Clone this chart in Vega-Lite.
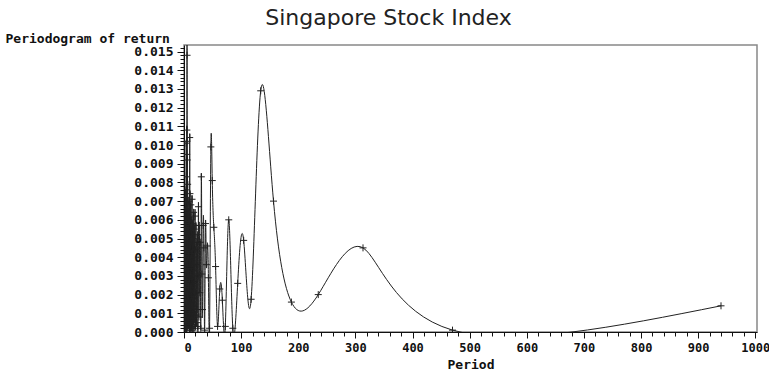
{
  "$schema": "https://vega.github.io/schema/vega-lite/v6.json",
  "width": 573,
  "height": 287,
  "autosize": {"type": "none"},
  "padding": {"left": 184, "top": 45, "right": 12, "bottom": 39},
  "background": "white",
  "title": {"text": "Singapore Stock Index", "font": "DejaVu Sans", "fontSize": 22, "fontWeight": "normal", "color": "#222", "anchor": "middle", "dx": -82, "offset": 2},
  "config": {"view": {"stroke": "#888", "strokeWidth": 1.5}},
  "data": {"values": [
    {"p": 940, "v": 0.0014}, {"p": 470, "v": 0.0001}, {"p": 313.33, "v": 0.0045}, {"p": 235, "v": 0.0020},
    {"p": 188, "v": 0.0016}, {"p": 156.67, "v": 0.0070}, {"p": 134.29, "v": 0.0129}, {"p": 117.5, "v": 0.00175},
    {"p": 104.44, "v": 0.0049}, {"p": 94, "v": 0.0026}, {"p": 85.45, "v": 0.0002}, {"p": 78.33, "v": 0.0060},
    {"p": 72.31, "v": 0.0003}, {"p": 67.14, "v": 0.0017}, {"p": 62.67, "v": 0.0023}, {"p": 58.75, "v": 0.0003},
    {"p": 55.29, "v": 0.0035}, {"p": 52.22, "v": 0.0056}, {"p": 49.47, "v": 0.0081}, {"p": 47.0, "v": 0.0099},
    {"p": 44.76, "v": 0.0002}, {"p": 42.73, "v": 0.0029}, {"p": 40.87, "v": 0.0046}, {"p": 39.17, "v": 0.0036},
    {"p": 37.6, "v": 0.0058}, {"p": 36.15, "v": 0.0001}, {"p": 34.81, "v": 0.0045}, {"p": 33.57, "v": 0.0057},
    {"p": 32.41, "v": 0.0012}, {"p": 31.33, "v": 0.0031}, {"p": 30.32, "v": 0.0083}, {"p": 29.38, "v": 0.0002},
    {"p": 28.48, "v": 0.0048}, {"p": 27.65, "v": 0.0021}, {"p": 26.86, "v": 0.0057}, {"p": 26.11, "v": 0.0008},
    {"p": 25.41, "v": 0.0067}, {"p": 24.74, "v": 0.0030}, {"p": 24.1, "v": 0.0003}, {"p": 23.5, "v": 0.0052},
    {"p": 22.93, "v": 0.0012}, {"p": 22.38, "v": 0.0048}, {"p": 21.86, "v": 0.0005}, {"p": 21.36, "v": 0.0036},
    {"p": 20.89, "v": 0.0057}, {"p": 20.43, "v": 0.0021}, {"p": 20.0, "v": 0.0003}, {"p": 19.58, "v": 0.0044},
    {"p": 19.18, "v": 0.0062}, {"p": 18.8, "v": 0.0009}, {"p": 18.43, "v": 0.0027}, {"p": 18.08, "v": 0.0055},
    {"p": 17.74, "v": 0.0002}, {"p": 17.41, "v": 0.0040}, {"p": 17.09, "v": 0.0018}, {"p": 16.79, "v": 0.0064},
    {"p": 16.49, "v": 0.0007}, {"p": 16.21, "v": 0.0033}, {"p": 15.93, "v": 0.0050}, {"p": 15.67, "v": 0.0001},
    {"p": 15.41, "v": 0.0026}, {"p": 15.16, "v": 0.0058}, {"p": 14.92, "v": 0.0014}, {"p": 14.69, "v": 0.0045},
    {"p": 14.46, "v": 0.0004}, {"p": 14.24, "v": 0.0038}, {"p": 14.03, "v": 0.0071}, {"p": 13.82, "v": 0.0010},
    {"p": 13.62, "v": 0.0029}, {"p": 13.43, "v": 0.0053}, {"p": 13.24, "v": 0.0002}, {"p": 13.06, "v": 0.0042},
    {"p": 12.88, "v": 0.0019}, {"p": 12.7, "v": 0.0060}, {"p": 12.53, "v": 0.0006}, {"p": 12.37, "v": 0.0035},
    {"p": 12.21, "v": 0.0049}, {"p": 12.05, "v": 0.0011}, {"p": 11.9, "v": 0.0068}, {"p": 11.75, "v": 0.0024},
    {"p": 11.6, "v": 0.0003}, {"p": 11.46, "v": 0.0046}, {"p": 11.33, "v": 0.0031}, {"p": 11.19, "v": 0.0056},
    {"p": 11.06, "v": 0.0008}, {"p": 10.93, "v": 0.0039}, {"p": 10.8, "v": 0.0022}, {"p": 10.68, "v": 0.0061},
    {"p": 10.56, "v": 0.0005}, {"p": 10.44, "v": 0.0034}, {"p": 10.33, "v": 0.0074}, {"p": 10.22, "v": 0.0015},
    {"p": 10.11, "v": 0.0043}, {"p": 10.0, "v": 0.0104}, {"p": 9.89, "v": 0.0009}, {"p": 9.79, "v": 0.0052},
    {"p": 9.69, "v": 0.0028}, {"p": 9.59, "v": 0.0001}, {"p": 9.49, "v": 0.0047}, {"p": 9.4, "v": 0.0037},
    {"p": 9.04, "v": 0.0013}, {"p": 8.7, "v": 0.0059}, {"p": 8.39, "v": 0.0025}, {"p": 8.1, "v": 0.0070},
    {"p": 7.83, "v": 0.0004}, {"p": 7.58, "v": 0.0041}, {"p": 7.34, "v": 0.0054}, {"p": 7.12, "v": 0.0017},
    {"p": 6.91, "v": 0.0063}, {"p": 6.71, "v": 0.0007}, {"p": 6.53, "v": 0.0036}, {"p": 6.35, "v": 0.0079},
    {"p": 6.18, "v": 0.0020}, {"p": 6.03, "v": 0.0051}, {"p": 5.88, "v": 0.0003}, {"p": 5.73, "v": 0.0092},
    {"p": 5.6, "v": 0.0030}, {"p": 5.47, "v": 0.0045}, {"p": 5.34, "v": 0.0148}, {"p": 5.22, "v": 0.0102},
    {"p": 5.11, "v": 0.0011}, {"p": 5.0, "v": 0.0108}, {"p": 4.9, "v": 0.0039}, {"p": 4.8, "v": 0.0006},
    {"p": 4.7, "v": 0.0095}, {"p": 4.61, "v": 0.0027}, {"p": 4.52, "v": 0.0058}, {"p": 4.43, "v": 0.0002},
    {"p": 4.35, "v": 0.0044}, {"p": 4.27, "v": 0.0083}, {"p": 4.2, "v": 0.0016}, {"p": 4.12, "v": 0.0049},
    {"p": 4.05, "v": 0.0065}, {"p": 3.98, "v": 0.0005}, {"p": 3.92, "v": 0.0037}, {"p": 3.85, "v": 0.0101},
    {"p": 3.79, "v": 0.0022}, {"p": 3.73, "v": 0.0054}, {"p": 3.67, "v": 0.0008}, {"p": 3.62, "v": 0.0061},
    {"p": 3.56, "v": 0.0033}, {"p": 3.51, "v": 0.0076}, {"p": 3.46, "v": 0.0001}, {"p": 3.41, "v": 0.0042},
    {"p": 3.36, "v": 0.0057}, {"p": 3.31, "v": 0.0014}, {"p": 3.26, "v": 0.0066}, {"p": 3.22, "v": 0.0029},
    {"p": 3.18, "v": 0.0003}, {"p": 3.13, "v": 0.0048}, {"p": 3.09, "v": 0.0072}, {"p": 3.05, "v": 0.0019},
    {"p": 3.01, "v": 0.0055}, {"p": 2.97, "v": 0.0006}, {"p": 2.94, "v": 0.0040}, {"p": 2.9, "v": 0.0063},
    {"p": 2.87, "v": 0.0012}, {"p": 2.83, "v": 0.0035}, {"p": 2.8, "v": 0.0058}, {"p": 2.76, "v": 0.0004},
    {"p": 2.73, "v": 0.0047}, {"p": 2.7, "v": 0.0024}, {"p": 2.67, "v": 0.0069}, {"p": 2.64, "v": 0.0010},
    {"p": 2.61, "v": 0.0052}, {"p": 2.58, "v": 0.0031}, {"p": 2.55, "v": 0.0002}, {"p": 2.53, "v": 0.0044},
    {"p": 2.5, "v": 0.0060}, {"p": 2.47, "v": 0.0017}, {"p": 2.45, "v": 0.0038}, {"p": 2.42, "v": 0.0007},
    {"p": 2.4, "v": 0.0056}, {"p": 2.37, "v": 0.0026}, {"p": 2.35, "v": 0.0064}, {"p": 2.33, "v": 0.0003},
    {"p": 2.3, "v": 0.0041}, {"p": 2.28, "v": 0.0050}, {"p": 2.26, "v": 0.0013}, {"p": 2.24, "v": 0.0034},
    {"p": 2.22, "v": 0.0059}, {"p": 2.2, "v": 0.0009}, {"p": 2.18, "v": 0.0046}, {"p": 2.16, "v": 0.0021},
    {"p": 2.14, "v": 0.0062}, {"p": 2.12, "v": 0.0005}, {"p": 2.1, "v": 0.0037}, {"p": 2.08, "v": 0.0053},
    {"p": 2.06, "v": 0.0015}, {"p": 2.04, "v": 0.0043}, {"p": 2.03, "v": 0.0028}, {"p": 2.01, "v": 0.0057}
  ]},
  "resolve": {"axis": {"x": "independent", "y": "independent"}},
  "layer": [
    {
      "mark": {"type": "line", "interpolate": "natural", "clip": true, "color": "#222", "strokeWidth": 1},
      "encoding": {
        "x": {"field": "p", "type": "quantitative", "scale": {"domain": [0, 1003], "nice": false, "zero": false},
          "axis": {"orient": "bottom", "values": [0, 100, 200, 300, 400, 500, 600, 700, 800, 900, 1000], "format": "d", "grid": false,
            "tickSize": 6, "tickColor": "#111", "domainColor": "#111", "labelPadding": 4,
            "labelFont": "DejaVu Sans Mono", "labelFontWeight": "bold", "labelFontSize": 12, "labelColor": "#111",
            "title": "Period", "titleFont": "DejaVu Sans Mono", "titleFontWeight": "bold", "titleFontSize": 13, "titleColor": "#111", "titlePadding": 5}},
        "y": {"field": "v", "type": "quantitative", "scale": {"domain": [0, 0.01535], "nice": false},
          "axis": {"orient": "left", "values": [0, 0.001, 0.002, 0.003, 0.004, 0.005, 0.006, 0.007, 0.008, 0.009, 0.010, 0.011, 0.012, 0.013, 0.014, 0.015],
            "format": ".3f", "grid": false, "tickSize": 7, "tickColor": "#111", "domainColor": "#111", "labelPadding": 4,
            "labelFont": "DejaVu Sans Mono", "labelFontWeight": "bold", "labelFontSize": 13, "labelColor": "#111",
            "title": "Periodogram of return", "titleFont": "DejaVu Sans Mono", "titleFontWeight": "bold", "titleFontSize": 13, "titleColor": "#111",
            "titleAngle": 0, "titleAlign": "left", "titleBaseline": "middle", "titleX": -179, "titleY": -7}}
      }
    },
    {
      "mark": {"type": "point", "shape": "M-1,0L1,0M0,-1L0,1", "size": 49, "filled": false, "stroke": "#222", "strokeWidth": 1, "opacity": 1, "clip": true},
      "encoding": {
        "x": {"field": "p", "type": "quantitative",
          "axis": {"orient": "bottom", "values": [20, 40, 60, 80, 120, 140, 160, 180, 220, 240, 260, 280, 320, 340, 360, 380, 420, 440, 460, 480, 520, 540, 560, 580, 620, 640, 660, 680, 720, 740, 760, 780, 820, 840, 860, 880, 920, 940, 960, 980],
            "labels": false, "domain": false, "grid": false, "tickSize": 4, "tickColor": "#111", "title": null}},
        "y": {"field": "v", "type": "quantitative",
          "axis": {"orient": "left", "values": [0.0002, 0.0004, 0.0006, 0.0008, 0.0012, 0.0014, 0.0016, 0.0018, 0.0022, 0.0024, 0.0026, 0.0028, 0.0032, 0.0034, 0.0036, 0.0038, 0.0042, 0.0044, 0.0046, 0.0048, 0.0052, 0.0054, 0.0056, 0.0058, 0.0062, 0.0064, 0.0066, 0.0068, 0.0072, 0.0074, 0.0076, 0.0078, 0.0082, 0.0084, 0.0086, 0.0088, 0.0092, 0.0094, 0.0096, 0.0098, 0.0102, 0.0104, 0.0106, 0.0108, 0.0112, 0.0114, 0.0116, 0.0118, 0.0122, 0.0124, 0.0126, 0.0128, 0.0132, 0.0134, 0.0136, 0.0138, 0.0142, 0.0144, 0.0146, 0.0148, 0.0152],
            "labels": false, "domain": false, "grid": false, "tickSize": 4, "tickColor": "#111", "title": null}}
      }
    }
  ]
}
